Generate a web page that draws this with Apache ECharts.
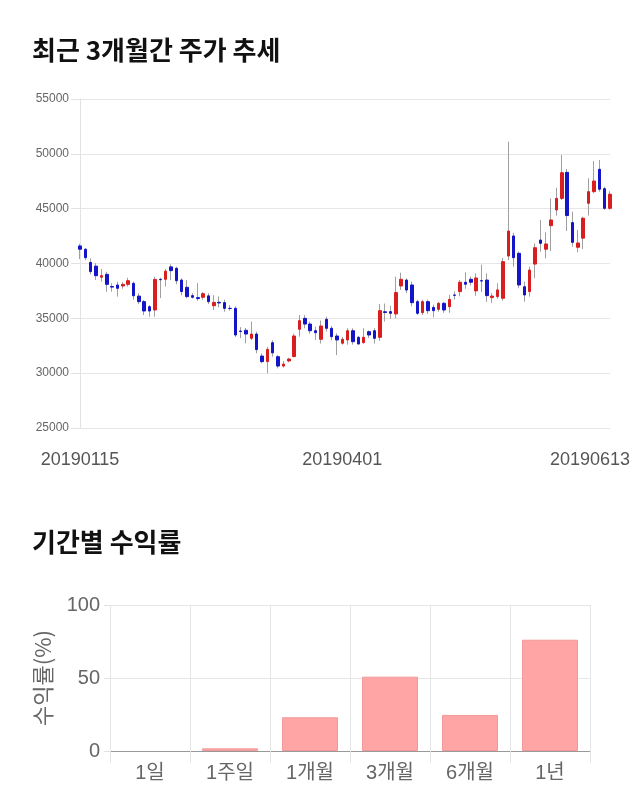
<!DOCTYPE html>
<html><head><meta charset="utf-8">
<script src="https://cdn.jsdelivr.net/npm/echarts@6/dist/echarts.min.js"></script>
<style>html,body{margin:0;padding:0;background:#fff}#c{width:640px;height:810px}</style>
</head><body><div id="c"></div>
<script>
const dates = [
'20190115','20190116','20190117','20190118','20190121','20190122','20190123','20190124','20190125','20190128','20190129','20190130','20190131',
'20190207','20190208','20190211','20190212','20190213','20190214','20190215','20190218','20190219','20190220','20190221','20190222','20190225','20190226','20190227','20190228',
'20190304','20190305','20190306','20190307','20190308','20190311','20190312','20190313','20190314','20190315','20190318','20190319','20190320','20190321','20190322','20190325','20190326','20190327','20190328','20190329',
'20190401','20190402','20190403','20190404','20190405','20190408','20190409','20190410','20190411','20190412','20190415','20190416','20190417','20190418','20190419','20190422','20190423','20190424','20190425','20190426','20190429','20190430',
'20190502','20190503','20190507','20190508','20190509','20190510','20190513','20190514','20190515','20190516','20190517','20190520','20190521','20190522','20190523','20190524','20190527','20190528','20190529','20190530','20190531',
'20190603','20190604','20190605','20190607','20190610','20190611','20190612','20190613'];
const dateTicks = ['20190115','20190401','20190613'];

const opens = [41600,41300,40100,39760,38750,39010,37900,38040,37950,38100,
38190,37030,36520,36060,35760,38560,38560,39690,39560,38490,
37830,37070,36890,36920,37050,36150,36460,36430,35910,35910,
33840,33910,33180,33570,31560,31050,32780,31500,30650,31110,
31510,34000,35000,34480,33870,33090,34910,34090,33390,32730,
33030,33870,33270,32780,33780,33870,33270,35600,35610,35400,
37950,38490,38040,36520,35520,36520,36000,35820,36370,36060,
37130,37440,38290,38560,37500,38430,38490,36890,36980,36830,
40680,42510,40930,37880,37440,39950,42140,41300,43450,44880,
45940,48310,43730,41480,42310,45490,46550,48590,46820,45030];
const closes = [41300,40530,39260,38890,38890,38100,37850,37740,38100,38430,
37060,36520,35670,35670,38550,38520,39300,39350,38430,37440,
36980,36920,36800,37250,36520,36450,36400,35910,35900,33480,
33800,33570,33570,32150,31050,32170,31850,30650,30830,31290,
33390,34790,34480,33870,33690,34300,34090,33330,33030,33090,
33870,32870,32660,33270,33480,33180,35700,35530,35460,37350,
38560,37580,36430,35460,36520,35700,35700,36370,35760,36730,
37100,38290,38110,38290,38680,38400,37070,37030,37590,40170,
42960,40530,38040,37130,39400,41440,41840,41780,43970,45940,
48280,44370,41930,41870,44130,46550,47520,46770,45030,46320];
const highs = [41800,41400,40470,40040,39500,39250,38200,38340,38300,38700,
38350,37300,36670,36210,38800,38700,39500,39930,39700,38650,
38490,37300,38200,37400,37300,37100,37000,36700,36200,36100,
34200,34120,34700,33780,31800,32400,33000,31650,31100,31400,
33600,35300,35300,34700,34240,34800,35150,34300,33630,33300,
34100,34100,33400,34100,33900,34100,36300,36350,36150,38800,
39160,38650,38350,36700,36700,36700,36250,36500,36500,37130,
37450,38500,39200,38800,39100,39900,39100,37300,38200,40500,
51110,42800,41080,38340,39710,41840,43970,42840,45940,46910,
49890,48620,44720,43050,44270,47770,49350,49440,47000,46600];
const lows = [40400,40300,39000,38500,38340,37430,37430,36980,37700,37900,
36700,36300,35300,35150,35150,36850,37900,38490,38100,37100,
36830,36800,36600,36700,36300,35760,36000,35600,35700,33300,
33200,32730,33030,31810,30900,29990,31500,30440,30500,31000,
31450,33330,34100,33600,33030,32700,33800,33000,31650,32600,
32600,32600,32600,32700,33200,32700,32950,34700,34950,35000,
37590,37300,36100,35300,35300,35400,35100,35600,35500,35500,
36700,37000,37700,38000,37050,37400,36500,36400,36800,36600,
40320,39700,37740,36520,36980,38650,41080,40470,41140,44360,
45790,42960,41530,41020,41320,44370,46400,46550,44880,44900];

const periods = ['1일','1주일','1개월','3개월','6개월','1년'];
const returns = [0, 1.8, 23.1, 50.9, 24.7, 76.2];

const FONT = "'Liberation Sans', Arial, 'Noto Sans CJK KR', sans-serif";
const KFONT = "'Noto Sans CJK KR', sans-serif";
const UP = '#d81e1e', DOWN = '#1414c8', WICK = '#a0a0a0';

const wickData = dates.map((d, i) => [opens[i], closes[i], lows[i], highs[i]]);
const bodyData = dates.map((d, i) => [opens[i], closes[i], Math.min(opens[i], closes[i]), Math.max(opens[i], closes[i])]);
const barData = returns.map(v => v === 0 ? {value: v, itemStyle: {borderWidth: 0}} : v);

const chart = echarts.init(document.getElementById('c'), null, {renderer: 'canvas'});
chart.setOption({
  animation: false,
  backgroundColor: '#fff',
  textStyle: {fontFamily: FONT},
  title: [
    {text: '최근 3개월간 주가 추세', left: 27, top: 32,
     textStyle: {fontSize: 26, fontWeight: 'bold', color: '#111', fontFamily: KFONT}},
    {text: '기간별 수익률', left: 27, top: 524,
     textStyle: {fontSize: 26, fontWeight: 'bold', color: '#111', fontFamily: KFONT}}
  ],
  grid: [
    {left: 80, right: 30, top: 99, height: 329},
    {left: 110, right: 50, top: 605, height: 146}
  ],
  xAxis: [
    {type: 'category', gridIndex: 0, data: dates, boundaryGap: false,
     axisLine: {show: false}, axisTick: {show: false}, splitLine: {show: false},
     axisLabel: {
       interval: (i, v) => dateTicks.includes(v),
       formatter: (v) => v === dateTicks[dateTicks.length - 1] ? '{r|' + v + '}' : v,
       fontSize: 18, color: '#555', margin: 23, fontFamily: FONT,
       rich: {r: {fontSize: 18, color: '#555', padding: [0, 40, 0, 0], fontFamily: FONT}}
     }},
    {type: 'category', gridIndex: 1, data: periods, boundaryGap: true,
     axisLine: {show: true, lineStyle: {color: '#999'}},
     axisTick: {show: true, length: 12, lineStyle: {color: '#e2e2e2'}},
     splitLine: {show: true, lineStyle: {color: '#e6e6e6'}},
     axisLabel: {fontSize: 20, color: '#666', margin: 12, fontFamily: FONT}}
  ],
  yAxis: [
    {type: 'value', gridIndex: 0, min: 25000, max: 55000, interval: 5000,
     axisLine: {show: true, lineStyle: {color: '#e2e2e2'}},
     axisTick: {show: true, length: 9, lineStyle: {color: '#e2e2e2'}},
     splitLine: {show: true, lineStyle: {color: '#e6e6e6'}},
     axisLabel: {fontSize: 12, color: '#666', margin: 11, fontFamily: FONT, formatter: (v) => String(v)}},
    {type: 'value', gridIndex: 1, min: 0, max: 100, interval: 50,
     name: '수익률(%)', nameLocation: 'middle', nameGap: 56, nameRotate: 90,
     nameTextStyle: {fontSize: 22, color: '#666', fontFamily: KFONT},
     axisLine: {show: false},
     axisTick: {show: true, length: 6, lineStyle: {color: '#e2e2e2'}},
     splitLine: {show: true, lineStyle: {color: '#e6e6e6'}},
     axisLabel: {fontSize: 20, color: '#666', margin: 10, fontFamily: FONT}}
  ],
  series: [
    {type: 'candlestick', xAxisIndex: 0, yAxisIndex: 0, data: wickData, barWidth: 1,
     itemStyle: {color: WICK, color0: WICK, borderColor: WICK, borderColor0: WICK, borderWidth: 1}},
    {type: 'candlestick', xAxisIndex: 0, yAxisIndex: 0, data: bodyData, barWidth: 3,
     itemStyle: {color: UP, color0: DOWN, borderColor: UP, borderColor0: DOWN, borderWidth: 1}},
    {type: 'bar', xAxisIndex: 1, yAxisIndex: 1, data: barData, barWidth: '70%',
     itemStyle: {color: '#ffa5a5', borderColor: '#f29a9a', borderWidth: 1}}
  ]
});
</script></body></html>
